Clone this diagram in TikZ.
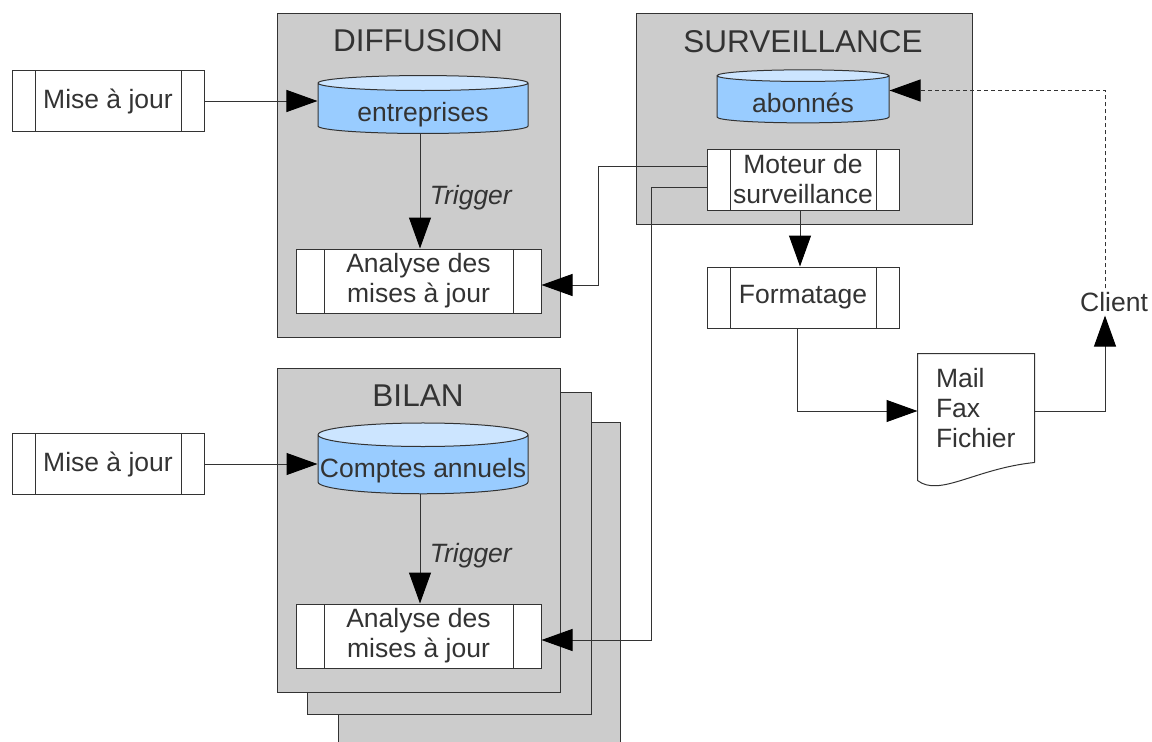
\documentclass[tikz,border=0pt]{standalone}
\usepackage{fontspec}
\setmainfont{Liberation Sans}
\usetikzlibrary{shapes.geometric,arrows.meta,positioning}
\definecolor{trait}{HTML}{333333}
\definecolor{gris}{HTML}{CCCCCC}
\definecolor{bleu}{HTML}{99CCFF}
\definecolor{bleuclair}{HTML}{CCE5FF}
\begin{document}
\begin{tikzpicture}[x=1pt,y=-1pt,line width=1pt,
  every node/.style={text=trait,font=\fontsize{26.5}{30}\selectfont},
  panneau/.style={draw=trait,fill=gris},
  titre/.style={font=\fontsize{31.5}{36}\selectfont},
  proc/.style={draw=trait,fill=white,inner sep=0pt,align=center,
    minimum width=192,minimum height=61,
    path picture={\draw[trait]
      ([xshift=#1]path picture bounding box.north west) -- ([xshift=#1]path picture bounding box.south west)
      ([xshift=-#1]path picture bounding box.north east) -- ([xshift=-#1]path picture bounding box.south east);}},
  proc/.default=23pt,
  base/.style={cylinder,shape border rotate=90,aspect=0.114,draw=trait,inner sep=0pt,
    minimum width=210,minimum height=53,text height=30pt,text depth=5pt,
    cylinder uses custom fill,cylinder body fill=bleu,cylinder end fill=bleuclair},
  fleche/.style={-{Triangle[length=31pt,width=22pt,color=black]},draw=trait},
  declenche/.style={right=6pt,pos=0.56,font=\fontsize{26.5}{30}\selectfont\itshape},
]
\useasboundingbox (0,0) rectangle (1152,742);

% panneaux
\draw[panneau] (338,422) rectangle (620,760);
\draw[panneau] (307,392) rectangle (591,714);
\draw[panneau] (277,368) rectangle (560,692);
\draw[panneau] (277,13) rectangle (560,337);
\draw[panneau] (636,13) rectangle (972,224);
\node[titre] (tdiffusion) at (418,41) {DIFFUSION};
\node[titre] (tsurveillance) at (803,42) {SURVEILLANCE};
\node[titre] (tbilan) at (418,396) {BILAN};

% diffusion
\node[proc] (maj1) at (108,101) {Mise à jour};
\node[base] (entreprises) at (423,108.5) {entreprises};
\node[proc=28pt,minimum width=245,minimum height=64] (analyse1) at (418.5,281) {Analyse des\\mises à jour};
\draw[fleche] (maj1.east) -- (maj1.east -| entreprises.west);
\draw[fleche] ([xshift=-3pt]entreprises.south) -- ([xshift=-3pt]entreprises.south |- analyse1.north) node[declenche] {Trigger};

% bilan
\node[proc] (maj2) at (108,464) {Mise à jour};
\node[base] (comptes) at (423,464.5) {Comptes annuels};
\node[proc=28pt,minimum width=245,minimum height=64] (analyse2) at (418.5,636) {Analyse des\\mises à jour};
\draw[fleche] (maj2.east) -- (maj2.east -| comptes.west);
\draw[fleche] ([xshift=-3pt]comptes.south) -- ([xshift=-3pt]comptes.south |- analyse2.north) node[declenche] {Trigger};

% surveillance
\node[base,minimum width=172] (abonnes) at (803,99.5) {abonnés};
\node[proc] (moteur) at (803,179.5) {Moteur de\\surveillance};
\node[proc] (formatage) at (803,297.5) {Formatage};
\node[minimum width=116,minimum height=108,inner sep=0pt,text width=80,align=left] (sortie) at (976,408) {Mail\\Fax\\Fichier};
\draw[trait] (sortie.south east) -- (sortie.north east) -- (sortie.north west)
  -- ([yshift=-18pt]sortie.south west) .. controls +(22,17) and +(-59,6) .. (sortie.south east);
\node (client) at (1114,302) {Client};

% liaisons
\draw[fleche] ([yshift=13.5pt]moteur.west) -- ++(-108,0) |- ([yshift=-4pt]analyse1.east);
\draw[fleche] ([yshift=-7.5pt]moteur.west) -- ++(-55,0) |- ([yshift=-4pt]analyse2.east);
\draw[fleche] ([xshift=-3pt]moteur.south) -- ([xshift=-3pt]formatage.north);
\draw[fleche] ([xshift=-6pt]formatage.south) |- ([yshift=-3pt]sortie.west);
\draw[fleche] ([yshift=-3pt]sortie.east) -| ([xshift=-9pt]client.south);
\draw[fleche,dashed,dash pattern=on 4pt off 3pt] ([xshift=-9pt]client.north) |- ([yshift=9pt]abonnes.east);
\end{tikzpicture}
\end{document}
